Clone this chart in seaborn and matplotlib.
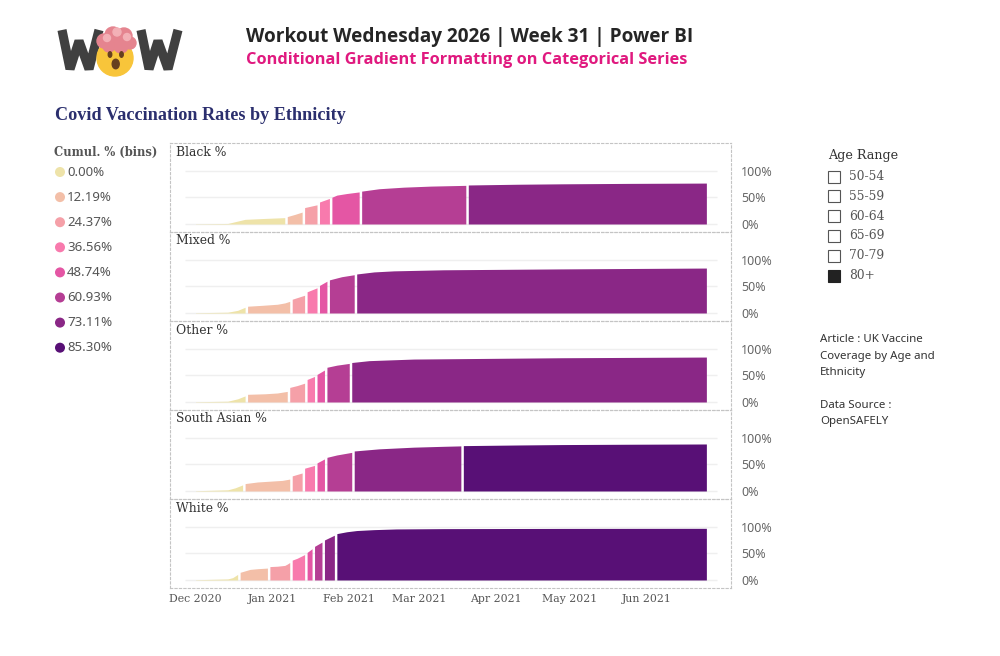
import numpy as np
import pandas as pd
import matplotlib
matplotlib.use("Agg")
import matplotlib.pyplot as plt
from matplotlib.patches import Rectangle, Circle, Ellipse
import seaborn as sns

START = pd.Timestamp("2020-12-01")

# bins of the cumulative % (lower bounds) and their colours
bin_edges = [0.00, 12.19, 24.37, 36.56, 48.74, 60.93, 73.11, 85.30]
bin_colors = ["#EEE3A9", "#F3BFA8", "#F5A0A8", "#F87AAD",
              "#E456A4", "#B53E94", "#8A2786", "#581076"]

# cumulative vaccination % (80+), days counted from 1 Dec 2020
black_days = [0, 13, 17, 20, 28, 36, 37, 40, 43, 44, 49, 50, 54, 55, 57, 61, 66,
              67, 74, 84, 95, 109, 110, 130, 148, 175, 206]
black_pct = [0.4, 1.0, 5.5, 8.8, 10.5, 12.0, 14.0, 18.0, 22.5, 31.0, 36.2, 41.5, 48.2,
             50.5, 54.5, 57.5, 60.5, 62.0, 66.5, 69.5, 71.5, 72.9, 73.6, 75.0, 75.8, 76.6, 77.2]

mixed_days = [0, 13, 17, 20, 21, 27, 33, 36, 38, 39, 41, 44, 45, 49, 50, 53,
              54, 59, 64, 65, 72, 80, 100, 148, 206]
mixed_pct = [0.5, 1.5, 5.0, 10.8, 12.8, 14.5, 16.5, 19.0, 22.0, 26.0, 29.0, 33.5,
             40.0, 47.5, 52.0, 60.0, 62.5, 68.5, 72.2, 73.6, 77.5, 79.5, 81.5, 83.2, 84.8]

other_days = [0, 13, 17, 20, 21, 28, 33, 37, 38, 41, 44, 45, 48, 49, 52,
              53, 57, 62, 63, 70, 88, 148, 206]
other_pct = [0.5, 1.5, 6.0, 11.5, 14.5, 15.5, 17.0, 20.0, 27.5, 31.0, 35.5, 42.5, 48.2,
             52.0, 60.3, 65.5, 69.5, 72.8, 74.5, 78.0, 81.0, 83.5, 84.8]

south_asian_days = [0, 13, 16, 19, 20, 25, 30, 35, 38, 39, 43, 44, 48, 49, 52,
                    53, 57, 63, 64, 74, 88, 100, 107, 108, 130, 148, 175, 206]
south_asian_pct = [0.5, 2.2, 6.0, 11.5, 14.0, 17.0, 18.5, 20.0, 22.5, 28.5, 34.0, 43.0, 48.3,
                   53.0, 60.5, 63.5, 68.0, 72.9, 75.5, 79.5, 82.7, 84.3, 85.1, 85.6, 86.8,
                   87.6, 88.2, 88.7]

white_days = [0, 13, 15, 17, 18, 22, 25, 29, 30, 33, 36, 37, 38, 39, 41, 44, 45, 47,
              48, 51, 52, 56, 57, 61, 65, 72, 81, 100, 148, 206]
white_pct = [0.5, 2.0, 4.5, 10.5, 14.5, 20.0, 21.3, 22.5, 25.3, 26.0, 27.5, 30.0, 33.0,
             37.5, 41.0, 48.0, 52.0, 59.0, 63.5, 71.5, 75.5, 84.5, 87.5, 91.0, 93.3,
             95.0, 96.3, 96.9, 97.3, 97.49]

ethnicities = ["Black %", "Mixed %", "Other %", "South Asian %", "White %"]
age_ranges = ["50-54", "55-59", "60-64", "65-69", "70-79", "80+"]
selected_age = "80+"

SERIF = "DejaVu Serif"
SANS = "Noto Sans"


def main():
    sns.set_theme(style="white")
    plt.rcParams["font.family"] = [SANS, "DejaVu Sans"]

    fig = plt.figure(figsize=(10, 6.56), dpi=100)
    deco = fig.add_axes([0, 0, 1, 1], zorder=0)
    deco.set_xlim(0, 1000)
    deco.set_ylim(656, 0)
    deco.axis("off")

    draw_header(fig, deco)
    draw_legend(fig, deco)
    draw_slicer(fig, deco)

    series = [(black_days, black_pct), (mixed_days, mixed_pct), (other_days, other_pct),
              (south_asian_days, south_asian_pct), (white_days, white_pct)]
    for i, (name, (days, pct)) in enumerate(zip(ethnicities, series)):
        top = 143 + i * 89
        ax = fig.add_axes([170 / 1000, 1 - (top + 89) / 656, 561 / 1000, 89 / 656], zorder=1)
        draw_panel(ax, days, pct, last=(i == len(ethnicities) - 1))
        deco.text(176, top + 9, name, family=SERIF, fontsize=8.9, color="#333333", va="center")

    fig.savefig("out.png", dpi=100)


def fit_text(fig, ax, x, y, s, width, **kw):
    t = ax.text(x, y, s, **kw)
    w = t.get_window_extent(renderer=fig.canvas.get_renderer()).width
    t.set_fontsize(t.get_fontsize() * width / w)
    return t


def draw_logo(deco):
    # the two heavy slanted W's
    for x0 in (57, 136):
        xs = [x0 + 5, x0 + 13, x0 + 22, x0 + 32, x0 + 42]
        ys = [30, 69, 41, 69, 30]
        deco.plot(xs, ys, color="#404040", lw=6.6, solid_joinstyle="bevel",
                  solid_capstyle="butt", zorder=2)
    # exploding-head face
    deco.add_patch(Circle((115, 58), 18, color="#F8C53A", zorder=3))
    for cx, cy, r in [(104, 41, 7), (113, 35, 8), (124, 36, 8), (130, 43, 6),
                      (109, 46, 6), (121, 46, 7)]:
        deco.add_patch(Circle((cx, cy), r, color="#E5848F", zorder=4))
    for cx, cy, r in [(107, 38, 3.5), (117, 32, 4), (127, 37, 3.5)]:
        deco.add_patch(Circle((cx, cy), r, color="#F3B0B6", zorder=4))
    for cx in (110, 121.5):
        deco.add_patch(Ellipse((cx, 54.5), 3.5, 5.5, color="#66401F", zorder=5))
    deco.add_patch(Ellipse((115.7, 64), 7, 9.5, color="#66401F", zorder=5))


def draw_header(fig, deco):
    draw_logo(deco)
    fit_text(fig, deco, 246, 37, "Workout Wednesday 2026 | Week 31 | Power BI", 444,
             family="Open Sans", weight="bold", fontsize=13, color="#252525", va="center")
    fit_text(fig, deco, 246, 60, "Conditional Gradient Formatting on Categorical Series", 444,
             family="Open Sans", weight="bold", fontsize=11, color="#E0197F", va="center")
    fit_text(fig, deco, 55, 116, "Covid Vaccination Rates by Ethnicity", 288,
             family="Liberation Serif", weight="bold", fontsize=11, color="#2B2F6E", va="center")


def draw_legend(fig, deco):
    fit_text(fig, deco, 54, 152, "Cumul. % (bins)", 104, family=SERIF, weight="bold",
             fontsize=9, color="#555555", va="center")
    legend_y = [172 + i * 25.1 for i in range(len(bin_edges))]
    labels = [f"{b:.2f}%" for b in bin_edges]
    sns.scatterplot(x=[60] * len(labels), y=legend_y, hue=labels, palette=bin_colors,
                    s=52, linewidth=0, legend=False, ax=deco, zorder=3)
    deco.set_xlim(0, 1000)
    deco.set_ylim(656, 0)
    for y, lab in zip(legend_y, labels):
        deco.text(67, y, lab, family=SANS, fontsize=9.5, color="#555555", va="center")


def draw_slicer(fig, deco):
    fit_text(fig, deco, 828, 156, "Age Range", 71, family=SERIF, fontsize=9.5,
             color="#333333", va="center")
    for i, age in enumerate(age_ranges):
        y = 176.5 + i * 19.8
        filled = age == selected_age
        deco.add_patch(Rectangle((828, y - 6), 12, 12, facecolor="#222222" if filled else "white",
                                 edgecolor="#555555" if not filled else "#222222", lw=0.8))
        deco.text(849, y, age, family=SERIF, fontsize=8.8, color="#555555", va="center")

    lines = [("Article : UK Vaccine", 340), ("Coverage by Age and", 356.5),
             ("Ethnicity", 373), ("Data Source :", 405), ("OpenSAFELY", 421.5)]
    t = fit_text(fig, deco, 820, lines[0][1], lines[0][0], 103, family=SANS,
                 fontsize=8, color="#333333", va="center")
    for s, y in lines[1:]:
        deco.text(820, y, s, family=SANS, fontsize=t.get_fontsize(), color="#333333", va="center")


def draw_panel(ax, days, pct, last=False):
    days = np.asarray(days, dtype=float)
    pct = np.asarray(pct, dtype=float)
    dates = (START + pd.to_timedelta(days, unit="D")).to_numpy()
    bins = np.digitize(pct, bin_edges) - 1

    ax.set_facecolor("none")
    ax.hlines([0, 50, 100], START - pd.Timedelta(days=4.2), START + pd.Timedelta(days=210.3),
              color="#EFEFEF", lw=1, zorder=0)

    # one area per run of points in the same bin -> white gap between bins
    breaks = np.flatnonzero(np.diff(bins)) + 1
    for idx in np.split(np.arange(len(days)), breaks):
        ax.fill_between(dates[idx], 0, pct[idx], color=bin_colors[bins[idx[0]]], lw=0, zorder=2)

    ax.set_xlim(START - pd.Timedelta(days=10.28), START + pd.Timedelta(days=215.93))
    ax.set_ylim(-15.1, 152.8)

    ax.yaxis.tick_right()
    ax.set_yticks([0, 50, 100])
    ax.set_yticklabels(["0%", "50%", "100%"], family=SANS, fontsize=9, color="#666666")
    ax.tick_params(axis="y", length=0, pad=7.2)

    months = pd.date_range("2020-12-01", "2021-06-01", freq="MS")
    ax.set_xticks(months)
    if last:
        ax.set_xticklabels([m.strftime("%b %Y") for m in months], family=SERIF,
                           fontsize=7.8, color="#555555")
        ax.tick_params(axis="x", length=0, pad=4)
    else:
        ax.set_xticklabels([])
        ax.tick_params(axis="x", length=0)

    for sp in ax.spines.values():
        sp.set_visible(True)
        sp.set_color("#C4C4C4")
        sp.set_linewidth(0.8)
        sp.set_linestyle((0, (2, 2)))
    ax.grid(False)


if __name__ == "__main__":
    main()
